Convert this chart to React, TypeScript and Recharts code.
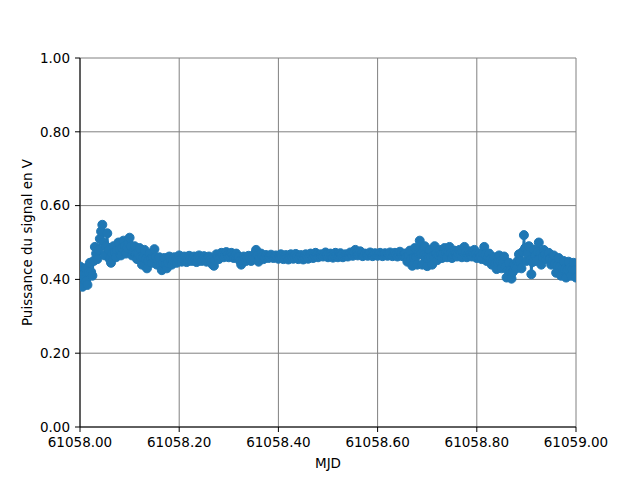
import React from 'react'
import { CartesianGrid, Line, LineChart, XAxis, YAxis } from 'recharts'

// Echantillonnage régulier sur une journée MJD
const mjdStart = 61058
const mjdStep = 0.0025

// Puissance du signal (V), une valeur par pas de temps (20 valeurs = 0.05 j)
const puissance: number[] = [
    0.435, 0.41, 0.38, 0.4, 0.43, 0.395, 0.385, 0.42, 0.445, 0.42, 0.41, 0.45, 0.488, 0.47, 0.455, 0.48, 0.51, 0.53, 0.548, 0.5,
    0.465, 0.49, 0.525, 0.48, 0.455, 0.445, 0.47, 0.49, 0.475, 0.46, 0.48, 0.5, 0.482, 0.465, 0.485, 0.505, 0.49, 0.47, 0.485, 0.5,
    0.513, 0.49, 0.465, 0.475, 0.49, 0.47, 0.455, 0.47, 0.485, 0.46, 0.44, 0.46, 0.48, 0.455, 0.43, 0.45, 0.47, 0.455, 0.445, 0.46,
    0.482, 0.46, 0.44, 0.45, 0.46, 0.44, 0.425, 0.445, 0.458, 0.44, 0.43, 0.445, 0.462, 0.45, 0.44, 0.452, 0.46, 0.452, 0.445, 0.455,
    0.465, 0.455, 0.448, 0.456, 0.462, 0.453, 0.447, 0.455, 0.464, 0.456, 0.45, 0.457, 0.462, 0.454, 0.447, 0.456, 0.465, 0.457, 0.45, 0.456,
    0.463, 0.455, 0.448, 0.455, 0.462, 0.452, 0.445, 0.44, 0.437, 0.452, 0.468, 0.462, 0.455, 0.463, 0.472, 0.465, 0.46, 0.466, 0.474, 0.466,
    0.46, 0.466, 0.472, 0.465, 0.458, 0.464, 0.47, 0.462, 0.46, 0.45, 0.44, 0.452, 0.462, 0.456, 0.45, 0.457, 0.464, 0.457, 0.45, 0.455,
    0.46, 0.47, 0.48, 0.465, 0.448, 0.46, 0.47, 0.462, 0.455, 0.46, 0.466, 0.462, 0.458, 0.462, 0.467, 0.462, 0.458, 0.462, 0.465, 0.46,
    0.456, 0.462, 0.468, 0.461, 0.455, 0.46, 0.466, 0.46, 0.454, 0.461, 0.468, 0.462, 0.456, 0.462, 0.469, 0.462, 0.455, 0.46, 0.466, 0.46,
    0.454, 0.461, 0.468, 0.462, 0.456, 0.463, 0.47, 0.464, 0.458, 0.465, 0.472, 0.466, 0.46, 0.464, 0.468, 0.465, 0.462, 0.467, 0.473, 0.466,
    0.46, 0.465, 0.47, 0.464, 0.459, 0.465, 0.472, 0.466, 0.46, 0.465, 0.471, 0.466, 0.46, 0.464, 0.468, 0.465, 0.462, 0.467, 0.473, 0.468,
    0.464, 0.472, 0.48, 0.472, 0.465, 0.47, 0.476, 0.469, 0.463, 0.466, 0.47, 0.467, 0.464, 0.468, 0.473, 0.468, 0.463, 0.467, 0.471, 0.467,
    0.464, 0.468, 0.472, 0.467, 0.463, 0.467, 0.471, 0.467, 0.464, 0.468, 0.473, 0.468, 0.463, 0.467, 0.472, 0.467, 0.462, 0.468, 0.475, 0.469,
    0.463, 0.467, 0.47, 0.46, 0.448, 0.465, 0.478, 0.455, 0.437, 0.46, 0.485, 0.462, 0.44, 0.47, 0.505, 0.47, 0.44, 0.465, 0.49, 0.46,
    0.436, 0.458, 0.48, 0.46, 0.44, 0.465, 0.49, 0.47, 0.452, 0.466, 0.48, 0.468, 0.458, 0.47, 0.485, 0.472, 0.46, 0.474, 0.488, 0.472,
    0.458, 0.468, 0.478, 0.47, 0.462, 0.47, 0.48, 0.47, 0.46, 0.474, 0.488, 0.474, 0.46, 0.468, 0.476, 0.469, 0.462, 0.47, 0.48, 0.469,
    0.458, 0.464, 0.47, 0.462, 0.455, 0.472, 0.488, 0.468, 0.45, 0.46, 0.47, 0.455, 0.44, 0.45, 0.46, 0.444, 0.428, 0.446, 0.465, 0.448,
    0.43, 0.446, 0.462, 0.434, 0.405, 0.425, 0.445, 0.424, 0.402, 0.42, 0.44, 0.435, 0.43, 0.45, 0.468, 0.45, 0.43, 0.475, 0.52, 0.485,
    0.45, 0.47, 0.49, 0.452, 0.414, 0.447, 0.48, 0.465, 0.45, 0.475, 0.5, 0.47, 0.44, 0.46, 0.48, 0.468, 0.455, 0.464, 0.472, 0.456,
    0.44, 0.452, 0.465, 0.442, 0.418, 0.438, 0.458, 0.434, 0.41, 0.43, 0.45, 0.428, 0.405, 0.426, 0.448, 0.43, 0.41, 0.428, 0.445, 0.425,
    0.405,
]

const xTicks = [61058, 61058.2, 61058.4, 61058.6, 61058.8, 61059]
const yTicks = [0, 0.2, 0.4, 0.6, 0.8, 1]

const data = puissance.map((v, i) => ({ mjd: mjdStart + i * mjdStep, puissance: v }))

const bleu = '#1f77b4'
const police = { fontFamily: 'DejaVu Sans', fontSize: 13.5, fill: '#000000' }

const App: React.FC = () => {
    return (
        <div style={{ position: 'absolute', left: 0, top: 0, background: '#ffffff' }}>
            <LineChart width={640} height={480} data={data} margin={{ top: 58, right: 64, bottom: 0, left: 8 }}>
                <CartesianGrid stroke='#808080' strokeWidth={1} />
                <XAxis
                    dataKey='mjd'
                    type='number'
                    domain={[61058, 61059]}
                    ticks={xTicks}
                    tickFormatter={(v: number) => v.toFixed(2)}
                    height={53}
                    tickSize={5}
                    tickMargin={5}
                    tick={police}
                    stroke='#000000'
                    allowDataOverflow
                    label={{ value: 'MJD', position: 'insideBottom', offset: 12, style: police }}
                />
                <XAxis xAxisId='haut' orientation='top' type='number' domain={[0, 1]} height={0} tick={false} tickLine={false} stroke='#000000' />
                <YAxis
                    type='number'
                    domain={[0, 1]}
                    ticks={yTicks}
                    tickFormatter={(v: number) => v.toFixed(2)}
                    width={72}
                    tickSize={5}
                    tickMargin={5}
                    tick={police}
                    stroke='#000000'
                    label={{ value: 'Puissance du signal en V', angle: -90, position: 'insideLeft', offset: 19, style: { ...police, textAnchor: 'middle' } }}
                />
                <YAxis yAxisId='droite' orientation='right' type='number' domain={[0, 1]} width={0} tick={false} tickLine={false} stroke='#000000' />
                <Line
                    dataKey='puissance'
                    stroke={bleu}
                    strokeWidth={2}
                    dot={{ r: 4.5, fill: bleu, stroke: bleu, strokeWidth: 1 }}
                    isAnimationActive={false}
                />
            </LineChart>
        </div>
    )
}

export default App
